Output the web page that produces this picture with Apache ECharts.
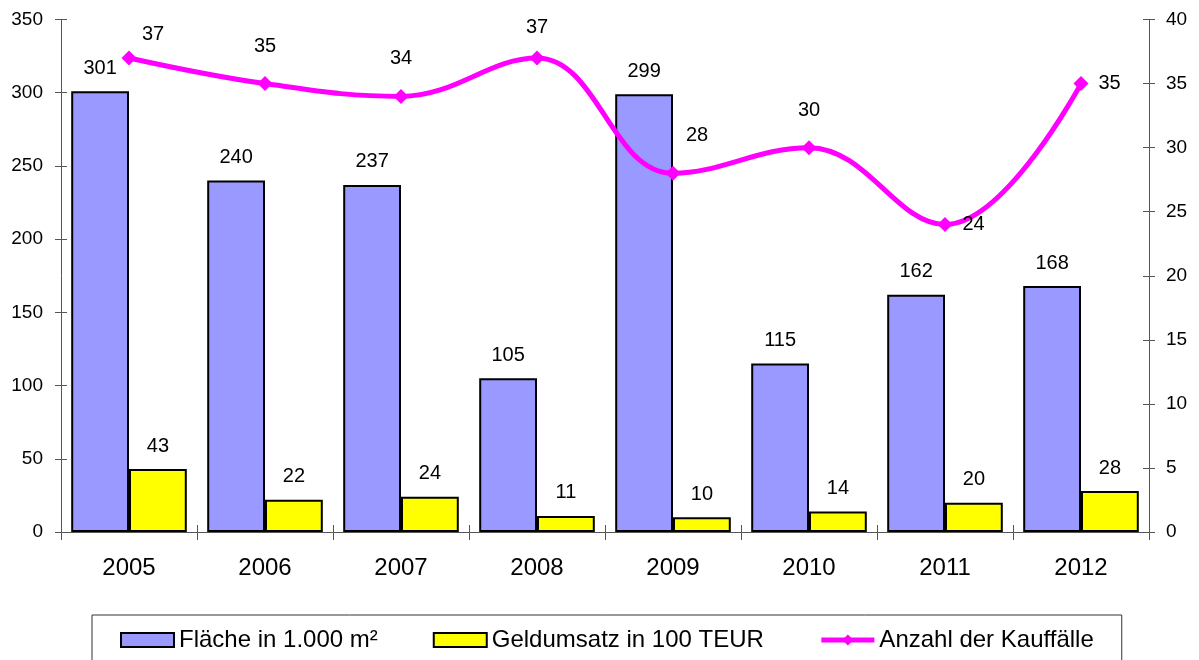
<!DOCTYPE html>
<html>
<head>
<meta charset="utf-8">
<script src="https://cdn.jsdelivr.net/npm/echarts@6/dist/echarts.min.js"></script>
<style>
  html, body { margin: 0; padding: 0; background: #fff; }
  #chart { width: 1199px; height: 660px; }
</style>
</head>
<body>
<div id="chart"></div>
<script>
const years = ['2005', '2006', '2007', '2008', '2009', '2010', '2011', '2012']
const flaeche = [301, 240, 237, 105, 299, 115, 162, 168]
const geldumsatz = [43, 22, 24, 11, 10, 14, 20, 28]
const kauffaelle = [37, 35, 34, 37, 28, 30, 24, 35]

// label placement tweaks for the line (index -> label options)
const lineLabelTweaks = {
  0: { position: 'top', offset: [24, 14] },
  3: { position: 'top', offset: [0, 7] },
  4: { position: 'top', offset: [24, 0] },
  6: { position: 'right', distance: 10, offset: [0, 0] },
  7: { position: 'right', distance: 10, offset: [0, 0] }
}

const font = 'Liberation Sans, Arial, sans-serif'
const axisColor = '#555'

const chart = echarts.init(document.getElementById('chart'))

const option = {
  animation: false,
  grid: { left: 61, right: 50, top: 19.5, bottom: 128 },
  xAxis: [
    {
      type: 'category',
      data: years,
      axisLine: { lineStyle: { color: axisColor, width: 1 } },
      axisTick: { show: true, length: 8, lineStyle: { color: axisColor } },
      axisLabel: { color: '#000', fontSize: 24, fontFamily: font, margin: 24 }
    },
    {
      type: 'category',
      data: years,
      position: 'bottom',
      axisLine: { show: false },
      axisTick: { show: true, inside: true, length: 7, lineStyle: { color: axisColor } },
      axisLabel: { show: false }
    }
  ],
  yAxis: [
    {
      type: 'value', min: 0, max: 350, interval: 50, position: 'left',
      axisLine: { show: true, lineStyle: { color: axisColor } },
      axisTick: { show: true, length: 6, lineStyle: { color: axisColor } },
      axisLabel: { color: '#000', fontSize: 19, fontFamily: font, margin: 18 },
      splitLine: { show: false }
    },
    {
      type: 'value', min: 0, max: 40, interval: 5, position: 'right',
      axisLine: { show: true, lineStyle: { color: axisColor } },
      axisTick: { show: true, length: 6, lineStyle: { color: axisColor } },
      axisLabel: { color: '#000', fontSize: 19, fontFamily: font, margin: 17 },
      splitLine: { show: false }
    },
    {
      type: 'value', min: 0, max: 350, interval: 50, position: 'left',
      axisLine: { show: false },
      axisTick: { show: true, inside: true, length: 6, lineStyle: { color: axisColor } },
      axisLabel: { show: false },
      splitLine: { show: false }
    },
    {
      type: 'value', min: 0, max: 40, interval: 5, position: 'right',
      axisLine: { show: false },
      axisTick: { show: true, inside: true, length: 6, lineStyle: { color: axisColor } },
      axisLabel: { show: false },
      splitLine: { show: false }
    }
  ],
  legend: {
    left: 92,
    top: 615,
    padding: [13, 28, 30, 28],
    borderColor: '#333',
    borderWidth: 1,
    itemWidth: 53,
    itemHeight: 14,
    itemGap: 55,
    textStyle: { color: '#000', fontSize: 24, fontFamily: font },
    data: [
      { name: 'Fläche in 1.000 m²', icon: 'rect', itemStyle: { color: '#9999FF', borderColor: '#000', borderWidth: 2 } },
      { name: 'Geldumsatz in 100 TEUR', icon: 'rect', itemStyle: { color: '#FFFF00', borderColor: '#000', borderWidth: 2 } },
      { name: 'Anzahl der Kauffälle', lineStyle: { width: 5 } }
    ]
  },
  series: [
    {
      name: 'Fläche in 1.000 m²',
      type: 'bar',
      barGap: '0%',
      barCategoryGap: '15%',
      itemStyle: { color: '#9999FF', borderColor: '#000', borderWidth: 2 },
      label: { show: true, position: 'top', distance: 13, color: '#000', fontSize: 20, fontFamily: font },
      data: flaeche
    },
    {
      name: 'Geldumsatz in 100 TEUR',
      type: 'bar',
      barGap: '0%',
      barCategoryGap: '15%',
      itemStyle: { color: '#FFFF00', borderColor: '#000', borderWidth: 2 },
      label: { show: true, position: 'top', distance: 13, color: '#000', fontSize: 20, fontFamily: font },
      data: geldumsatz
    },
    {
      name: 'Anzahl der Kauffälle',
      type: 'line',
      yAxisIndex: 1,
      smooth: 0.4,
      symbol: 'diamond',
      symbolSize: 15,
      lineStyle: { color: '#FF00FF', width: 5 },
      itemStyle: { color: '#FF00FF' },
      label: { show: true, position: 'top', distance: 20, color: '#000', fontSize: 20, fontFamily: font },
      data: kauffaelle.map((v, i) => lineLabelTweaks[i] ? { value: v, label: lineLabelTweaks[i] } : v),
      z: 5
    }
  ]
}

chart.setOption(option)
</script>
</body>
</html>
